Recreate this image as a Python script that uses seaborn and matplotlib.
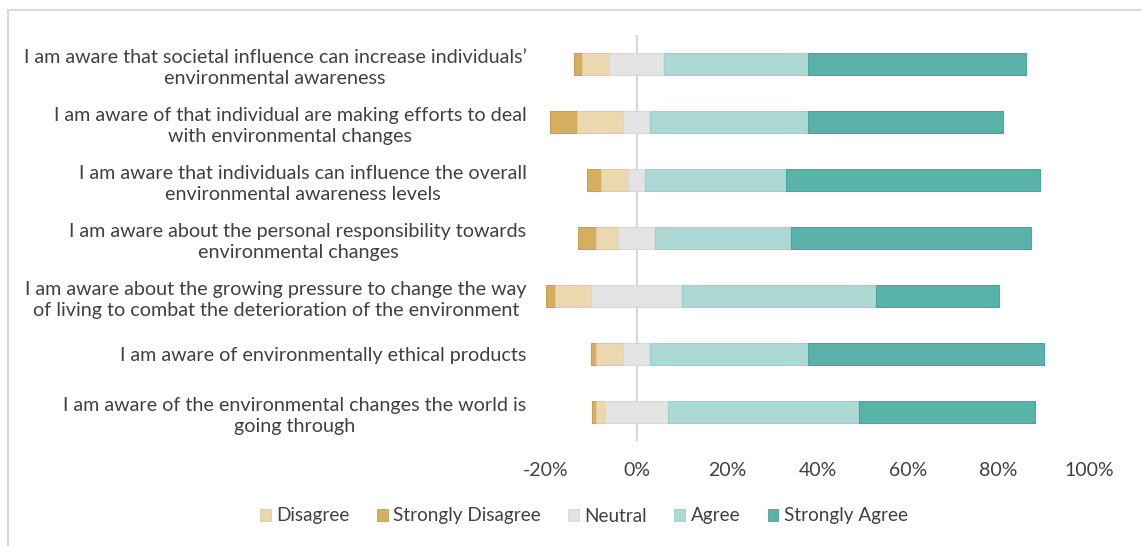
import matplotlib
matplotlib.use("Agg")
import matplotlib.pyplot as plt
import matplotlib.patches as mpatches
import seaborn as sns
import numpy as np
import pandas as pd

categories = [
    "I am aware that societal influence can increase individuals\u2019\nenvironmental awareness",
    "I am aware of that individual are making efforts to deal\nwith environmental changes",
    "I am aware that individuals can influence the overall\nenvironmental awareness levels",
    "I am aware about the personal responsibility towards\nenvironmental changes",
    "I am aware about the growing pressure to change the way\nof living to combat the deterioration of the environment",
    "I am aware of environmentally ethical products",
    "I am aware of the environmental changes the world is\ngoing through",
]
strongly_disagree = [1.9, 6.0, 3.0, 4.1, 2.0, 1.0, 1.0]
disagree = [6.0, 10.2, 6.0, 4.9, 8.0, 6.0, 1.8]
neutral = [12.0, 5.9, 3.9, 8.0, 20.1, 6.0, 14.1]
agree = [31.9, 34.9, 31.1, 30.1, 42.9, 34.9, 42.2]
strongly_agree = [48.2, 43.2, 56.1, 53.0, 27.1, 52.2, 38.9]

xticks = [-20, 0, 20, 40, 60, 80, 100]
xtick_labels = ["-20%", "0%", "20%", "40%", "60%", "80%", "100%"]
legend_order = ["Disagree", "Strongly Disagree", "Neutral", "Agree", "Strongly Agree"]

colors = {
    "Strongly Disagree": "#D5AF5F",
    "Disagree": "#EBD8AF",
    "Neutral": "#E3E3E3",
    "Agree": "#ADD9D5",
    "Strongly Agree": "#5AB3A9",
}
edges = {
    "Strongly Disagree": "#C8A050",
    "Disagree": "#E0CB9C",
    "Neutral": "#D8D8D8",
    "Agree": "#9FCFCA",
    "Strongly Agree": "#4CA49A",
}

sns.set_theme(style="white")
plt.rcParams["font.family"] = ["Lato", "DejaVu Sans"]
text_color = "#404040"

sd = np.array(strongly_disagree)
d = np.array(disagree)
n = np.array(neutral)
a = np.array(agree)
sa = np.array(strongly_agree)

series = {
    "Strongly Disagree": (sd, -(n / 2 + d + sd)),
    "Disagree": (d, -(n / 2 + d)),
    "Neutral": (n, -n / 2),
    "Agree": (a, n / 2),
    "Strongly Agree": (sa, n / 2 + a),
}

fig = plt.figure(figsize=(11.42, 5.46), dpi=100)
ax = fig.add_axes([546 / 1142, 105 / 546, 543 / 1142, 406 / 546])

for name, (vals, lefts) in series.items():
    df = pd.DataFrame({"cat": categories, "val": vals})
    sns.barplot(data=df, y="cat", x="val", order=categories, orient="h",
                left=lefts, color=colors[name], edgecolor=edges[name],
                linewidth=0.8, width=0.39, ax=ax, saturation=1)

ax.axvline(0, color="#D6D6D6", linewidth=1.5, zorder=0)
ax.set_xlim(-20, 100)
ax.set_ylim(len(categories) - 0.5, -0.5)
ax.set_xticks(xticks)
ax.set_xticklabels(xtick_labels, fontsize=14, color=text_color)
ax.set_yticks(range(len(categories)))
ax.set_yticklabels(categories, fontsize=14.2, color=text_color, multialignment="center",
                   linespacing=1.3)
ax.tick_params(axis="x", length=0, pad=15)
ax.tick_params(axis="y", length=0, pad=14)
ax.set_xlabel("")
ax.set_ylabel("")
for s in ax.spines.values():
    s.set_visible(False)

handles = [mpatches.Patch(facecolor=colors[k], edgecolor=edges[k], linewidth=0.6, label=k)
           for k in legend_order]
fig.legend(handles=handles, loc="center", bbox_to_anchor=(584 / 1142, 1 - 516 / 546),
           ncol=5, frameon=False, fontsize=13.6, handlelength=0.55, handleheight=0.55,
           handletextpad=0.3, columnspacing=1.45, labelcolor=text_color)

frame = mpatches.Rectangle((8 / 1142, -0.05), 1.1, 1 - 9.5 / 546 + 0.05,
                           transform=fig.transFigure, fill=False,
                           edgecolor="#D9D9D9", linewidth=1.5, clip_on=False)
fig.patches.append(frame)

fig.savefig("out.png", dpi=100)
